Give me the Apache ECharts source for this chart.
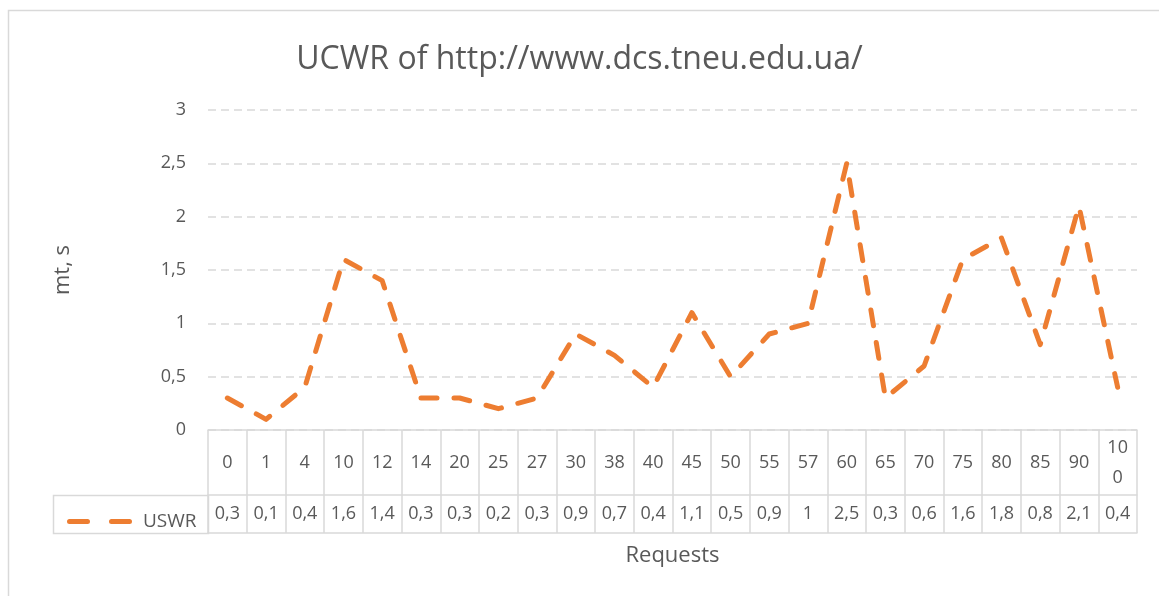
<!DOCTYPE html>
<html>
<head>
<meta charset="UTF-8">
<title>UCWR chart</title>
<script src="https://cdn.jsdelivr.net/npm/echarts@6/dist/echarts.min.js"></script>
<style>
  html, body { margin: 0; padding: 0; background: #fff; }
  #main { width: 1159px; height: 596px; }
</style>
</head>
<body>
<div id="main"></div>
<script>
// data
var requests = ['0','1','4','10','12','14','20','25','27','30','38','40','45','50','55','57','60','65','70','75','80','85','90','100'];
var uswr = [0.3,0.1,0.4,1.6,1.4,0.3,0.3,0.2,0.3,0.9,0.7,0.4,1.1,0.5,0.9,1,2.5,0.3,0.6,1.6,1.8,0.8,2.1,0.4];
var yTicks = [0, 0.5, 1, 1.5, 2, 2.5, 3];

var FONT = '"Open Sans", "Noto Sans", sans-serif';
var TXT = '#595959';
var GRIDC = '#d9d9d9';
var ORANGE = '#ED7D31';

function comma(v) { return String(v).replace('.', ','); }

var chart = echarts.init(document.getElementById('main'));

chart.setOption({
    backgroundColor: '#fff',
    animation: false,
    textStyle: { fontFamily: FONT },
    title: {
        text: 'UCWR of http://www.dcs.tneu.edu.ua/',
        left: 'center',
        top: 39,
        textStyle: { fontFamily: FONT, fontSize: 32, fontWeight: 'normal', color: TXT }
    },
    legend: {
        left: 62,
        top: 507,
        itemWidth: 65,
        itemHeight: 5,
        // two dashes, like the Excel legend key
        icon: 'path://M2.5,0H20.5A2.5,2.5,0,0,1,20.5,5H2.5A2.5,2.5,0,0,1,2.5,0Z M44.5,0H62.5A2.5,2.5,0,0,1,62.5,5H44.5A2.5,2.5,0,0,1,44.5,0Z',
        itemStyle: { color: ORANGE },
        textStyle: { fontFamily: FONT, fontSize: 19, color: TXT, padding: [0, 0, 0, 6] },
        data: ['USWR']
    },
    grid: { left: 208, right: 22, top: 110, bottom: 166 },
    //outer frame + legend cell of the data table
    graphic: [
        { type: 'polyline', silent: true,
          shape: { points: [[8.5, 596], [8.5, 10.5], [1159, 10.5]] },
          style: { fill: null, stroke: GRIDC, lineWidth: 1.5 } },
        { type: 'rect', silent: true,
          shape: { x: 53.5, y: 495.5, width: 155, height: 38 },
          style: { fill: null, stroke: GRIDC, lineWidth: 1.5 } }
    ],
    xAxis: [
        {   // header row with the request numbers
            type: 'category',
            data: requests,
            boundaryGap: true,
            axisLine: { show: true, lineStyle: { color: GRIDC, width: 1.5 } },
            axisTick: { show: true, interval: 0, length: 103, lineStyle: { color: GRIDC, width: 1.5 } },
            axisLabel: {
                interval: 0, margin: 33, verticalAlign: 'middle', lineHeight: 30,
                fontFamily: FONT, fontSize: 18, color: TXT,
                formatter: function (v) { return v.length > 2 ? v.slice(0, 2) + '\n' + v.slice(2) : v; }
            }
        },
        {   // value row
            type: 'category',
            position: 'bottom',
            offset: 65,
            data: uswr.map(comma),
            axisLine: { show: true, lineStyle: { color: GRIDC, width: 1.5 } },
            axisTick: { show: false },
            axisLabel: { interval: 0, margin: 19, verticalAlign: 'middle', fontFamily: FONT, fontSize: 18, color: TXT }
        },
        {   // bottom edge of the table + axis title
            type: 'category',
            position: 'bottom',
            offset: 103,
            data: requests,
            name: 'Requests',
            nameLocation: 'middle',
            nameGap: 12,
            nameTextStyle: { fontFamily: FONT, fontSize: 22, color: TXT },
            axisLine: { show: true, lineStyle: { color: GRIDC, width: 1.5 } },
            axisTick: { show: false },
            axisLabel: { show: false }
        }
    ],
    yAxis: {
        type: 'value',
        min: yTicks[0],
        max: yTicks[yTicks.length - 1],
        interval: 0.5,
        name: 'mt, s',
        nameLocation: 'middle',
        nameGap: 134,
        nameTextStyle: { fontFamily: FONT, fontSize: 22, color: TXT },
        axisLine: { show: false },
        axisTick: { show: false },
        axisLabel: { margin: 22, fontFamily: FONT, fontSize: 18, color: TXT, formatter: comma },
        splitLine: { show: true, lineStyle: { color: GRIDC, width: 1.5, type: [8, 5] } }
    },
    series: [{
        name: 'USWR',
        type: 'line',
        xAxisIndex: 0,
        data: uswr,
        symbol: 'none',
        itemStyle: { color: ORANGE },
        lineStyle: { color: ORANGE, width: 5, type: [16, 17], cap: 'round', join: 'round' }
    }]
});

window.onresize = function () { chart.resize(); };
</script>
</body>
</html>
